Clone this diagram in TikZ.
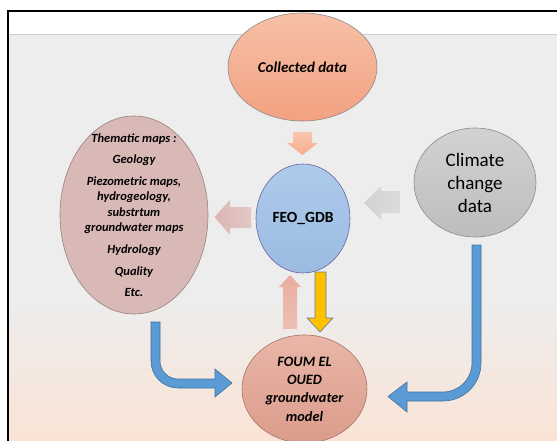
\documentclass[tikz,border=0pt]{standalone}
\usepackage{fontspec}
\setmainfont{Carlito}
\usetikzlibrary{shapes.geometric}
\definecolor{bgtop}{HTML}{EDEDED}
\definecolor{bgbot}{HTML}{FAE3D5}
\definecolor{sepline}{HTML}{CFCFCF}
\definecolor{coltop}{HTML}{F6C0A6}
\definecolor{colbot}{HTML}{F3A181}
\definecolor{feotop}{HTML}{AECAEC}
\definecolor{feobot}{HTML}{9BBBE2}
\definecolor{clitop}{HTML}{D2D2D2}
\definecolor{clibot}{HTML}{BDBDBD}
\definecolor{themfill}{HTML}{D9B9B6}
\definecolor{foumtop}{HTML}{E9B6A8}
\definecolor{foumbot}{HTML}{DB9C8A}
\definecolor{edgegray}{HTML}{8E8A88}
\definecolor{bluefill}{HTML}{5B9BD5}
\definecolor{blueedge}{HTML}{41719C}
\definecolor{yellowfill}{HTML}{FFC000}
\definecolor{yellowedge}{HTML}{5E7FA6}
\definecolor{salarrow}{HTML}{F5AE8F}
\definecolor{salarrowtop}{HTML}{F8C6AE}
\definecolor{grayarrow}{HTML}{D2D2D2}
\definecolor{grayarrowr}{HTML}{DCDCDC}
\definecolor{pinkarrow}{HTML}{DBB6B2}
\definecolor{pinkarrowr}{HTML}{E3C8C5}
\definecolor{uparrow}{HTML}{EAAE9F}
\definecolor{uparrowb}{HTML}{EDBFB2}
\tikzset{
  blob/.style={ellipse, draw=edgegray, line width=0.6pt, inner sep=0pt},
  txt/.style={align=center, inner sep=0pt, text=black},
  bluearrow/.style={fill=bluefill, draw=blueedge, line width=0.6pt},
}
\begin{document}
\begin{tikzpicture}[x=1pt,y=-1pt]
\useasboundingbox (0,0) rectangle (557,441);
\fill[white] (0,0) rectangle (557,441);
\fill[bgtop] (8,35) rectangle (557,300);
\shade[top color=bgtop, bottom color=bgbot] (8,299.5) rectangle (557,441);
\draw[sepline, line width=1pt] (8,35) -- (557,35);
\draw[black, line width=1.4pt] (8,441) -- (8,11) -- (557,11);

% ellipses
\node[blob, minimum width=149pt, minimum height=108pt, top color=coltop, bottom color=colbot] (col) at (302.5,67) {};
\node[blob, minimum width=94pt, minimum height=109pt, top color=feotop, bottom color=feobot, draw=gray!80!blue] (feo) at (303,218.5) {};
\node[blob, minimum width=122pt, minimum height=109pt, top color=clitop, bottom color=clibot] (cli) at (475,182.5) {};
\node[blob, minimum width=148pt, minimum height=198pt, fill=themfill, draw=themfill!70!black] (them) at (134,215) {};
\node[blob, minimum width=125pt, minimum height=108pt, top color=foumtop, bottom color=foumbot, draw=foumbot!75!black] (foum) at (304.5,389) {};

% texts
\node[txt, font={\fontsize{15}{18}\selectfont\bfseries\itshape}] (coltxt) at (col.center) {Collected data};
\node[txt, font={\fontsize{15.5}{18}\selectfont\bfseries}] (feotxt) at (feo.center) {FEO\_GDB};
\node[txt, font={\fontsize{19}{23}\selectfont}] (clitxt) at (cli.center) {Climate\\change\\data};
\node[txt, font={\fontsize{12.5}{15.5}\selectfont\bfseries\itshape}] (themtxt) at (them.center)
  {Thematic maps :\\[5.5pt]Geology\\[6.5pt]Piezometric maps,\\hydrogeology,\\substrtum\\groundwater maps\\[6.5pt]Hydrology\\[6.5pt]Quality\\[5.5pt]Etc.};
\node[txt, font={\fontsize{14.3}{18.3}\selectfont\bfseries\itshape}] (foumtxt) at (foum.center) {FOUM EL\\OUED\\groundwater\\model};

% block arrows
\shade[top color=salarrowtop, bottom color=salarrow]
  (293,132) -- (312,132) -- (312,143) -- (318,143) -- (302.5,155) -- (287,143) -- (293,143) -- cycle;
\shade[left color=grayarrow, right color=grayarrowr]
  (400,191) -- (400,213) -- (381,213) -- (381,220) -- (364,203) -- (381,186) -- (381,191) -- cycle;
\shade[left color=pinkarrow, right color=pinkarrowr]
  (251,207) -- (251,228) -- (230,228) -- (230,235) -- (214.5,217) -- (230,200) -- (230,207) -- cycle;
\shade[top color=uparrow, bottom color=uparrowb]
  (283,329) -- (297,329) -- (297,287) -- (301,287) -- (290,275) -- (279,287) -- (283,287) -- cycle;
\draw[fill=yellowfill, draw=yellowedge, line width=0.6pt]
  (315,272) -- (326,272) -- (326,318) -- (333,318) -- (320,332) -- (307,318) -- (315,318) -- cycle;
\draw[bluearrow]
  (151,322) -- (151,361) .. controls (151,375.9) and (163.1,388) .. (178,388) -- (215,388) -- (215,397)
  -- (232,383) -- (215,369) -- (215,379) -- (178,379) .. controls (168.1,379) and (160,370.9) .. (160,361)
  -- (160,322) -- cycle;
\draw[bluearrow]
  (472,245) -- (481,245) -- (481,363) .. controls (481,384) and (464,401) .. (443,401) -- (407,401) -- (407,412)
  -- (388,396.5) -- (407,382) -- (407,392) -- (443,392) .. controls (459,392) and (472,379) .. (472,363)
  -- cycle;
\end{tikzpicture}
\end{document}
